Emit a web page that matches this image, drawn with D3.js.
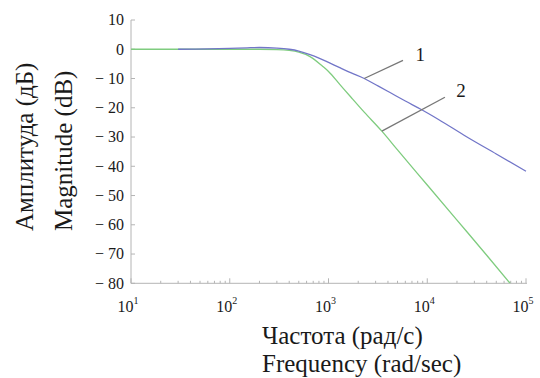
<!DOCTYPE html>
<html>
<head>
<meta charset="utf-8">
<script src="https://cdn.jsdelivr.net/npm/d3@7"></script>
<style>
  body { margin: 0; background: #fff; }
  svg text { font-family: "Liberation Serif", "Tinos", "Times New Roman", Times, "DejaVu Serif", serif !important; }
</style>
</head>
<body>
<svg id="chart" width="540" height="378"></svg>
<script>
// curve 1 (blue)
const blueFreq = [30, 60, 100, 150, 200, 300, 400, 500, 650, 800, 1000, 1300, 1700, 2300, 3200, 4200, 6000, 8700, 13000, 25000, 50000, 100000];
const blueDb = [0, 0.1, 0.3, 0.5, 0.6, 0.4, 0, -0.6, -1.8, -3.0, -4.5, -6.3, -8.1, -10.0, -12.6, -14.8, -17.7, -20.6, -24.0, -29.9, -35.8, -41.7];

// curve 2 (green)
const greenFreq = [10, 200, 300, 400, 500, 650, 870, 1000, 1300, 1700, 2300, 3470, 5000, 10000, 20000, 40000, 69000];
const greenDb = [0, 0, -0.1, -0.4, -1.0, -2.5, -5.8, -7.6, -12.0, -16.5, -21.5, -28.0, -34.4, -46.4, -58.4, -70.4, -80];

const yTicks = [10, 0, -10, -20, -30, -40, -50, -60, -70, -80];
const xDecades = [1, 2, 3, 4, 5];

// leader lines: [fromFreq, fromDb, toFreq, toDb], labels at [freq, db]
const callouts = [
  {label: '1', line: [2300, -10, 5680, -3.8], at: [8500, -3.9]},
  {label: '2', line: [3470, -28, 15100, -16.4], at: [22000, -16.4]}
];

const svg = d3.select('#chart');
const x = d3.scaleLog().domain([10, 1e5]).range([131, 526]);
const y = d3.scaleLinear().domain([-80, 10]).range([283.3, 20]);

const axisColor = '#b4b4b4';
const serif = '"Liberation Serif", "Times New Roman", "DejaVu Serif", serif';

// axes lines
svg.append('line')
  .attr('x1', x(10)).attr('x2', x(10))
  .attr('y1', y(10)).attr('y2', y(-80))
  .attr('stroke', axisColor).attr('stroke-width', 1);
svg.append('line')
  .attr('x1', x(10)).attr('x2', x(1e5) + 1)
  .attr('y1', y(-80)).attr('y2', y(-80))
  .attr('stroke', axisColor).attr('stroke-width', 1);

// y ticks
yTicks.forEach((v) => {
  svg.append('line')
    .attr('x1', x(10)).attr('x2', x(10) + 4)
    .attr('y1', y(v)).attr('y2', y(v))
    .attr('stroke', axisColor);
  svg.append('text')
    .attr('x', 124).attr('y', y(v))
    .attr('dy', '0.34em')
    .attr('text-anchor', 'end')
    .style('font-family', serif)
    .style('font-size', '16px')
    .attr('fill', '#1a1a1a')
    .text(v < 0 ? '\u2212 ' + Math.abs(v) : v);
});

// x ticks (major + minor)
xDecades.forEach((d) => {
  const base = Math.pow(10, d);
  svg.append('line')
    .attr('x1', x(base)).attr('x2', x(base))
    .attr('y1', y(-80)).attr('y2', y(-80) - 5)
    .attr('stroke', axisColor);
  if (d < 5) {
    for (let k = 2; k < 10; k++) {
      svg.append('line')
        .attr('x1', x(base * k)).attr('x2', x(base * k))
        .attr('y1', y(-80)).attr('y2', y(-80) - 2.5)
        .attr('stroke', axisColor);
    }
  }
  const t = svg.append('text')
    .attr('x', x(base) - 3).attr('y', 312)
    .attr('text-anchor', 'middle')
    .style('font-family', serif)
    .style('font-size', '16px')
    .attr('fill', '#1a1a1a');
  t.append('tspan').text('10');
  t.append('tspan').style('font-size', '10px').attr('dy', -8).text(d);
});

// curves
const line = d3.line()
  .x((d) => x(d[0]))
  .y((d) => y(d[1]))
  .curve(d3.curveMonotoneX);

svg.append('defs').append('clipPath').attr('id', 'plot')
  .append('rect')
  .attr('x', x(10)).attr('y', y(10))
  .attr('width', x(1e5) - x(10) + 2).attr('height', y(-80) - y(10));

svg.append('path')
  .datum(d3.zip(greenFreq, greenDb))
  .attr('d', line)
  .attr('clip-path', 'url(#plot)')
  .attr('fill', 'none')
  .attr('stroke', '#7fcc7f')
  .attr('stroke-width', 1.3);

svg.append('path')
  .datum(d3.zip(blueFreq, blueDb))
  .attr('d', line)
  .attr('clip-path', 'url(#plot)')
  .attr('fill', 'none')
  .attr('stroke', '#7276c8')
  .attr('stroke-width', 1.3);

// callouts
callouts.forEach((c) => {
  svg.append('line')
    .attr('x1', x(c.line[0])).attr('y1', y(c.line[1]))
    .attr('x2', x(c.line[2])).attr('y2', y(c.line[3]))
    .attr('stroke', '#777').attr('stroke-width', 1.3);
  svg.append('text')
    .attr('x', x(c.at[0])).attr('y', y(c.at[1]))
    .attr('text-anchor', 'middle')
    .style('font-family', serif)
    .style('font-size', '19px')
    .attr('fill', '#1a1a1a')
    .text(c.label);
});

// axis titles
const titles = [
  {text: 'Частота (рад/с)', tr: 'translate(262,344)'},
  {text: 'Frequency (rad/sec)', tr: 'translate(262,372)'},
  {text: 'Амплитуда (дБ)', tr: 'translate(33,231) rotate(-90)'},
  {text: 'Magnitude (dB)', tr: 'translate(72,231) rotate(-90)'}
];
titles.forEach((t) => {
  svg.append('text')
    .attr('transform', t.tr)
    .style('font-family', serif)
    .style('font-size', '25px')
    .attr('fill', '#1a1a1a')
    .text(t.text);
});
</script>
</body>
</html>
